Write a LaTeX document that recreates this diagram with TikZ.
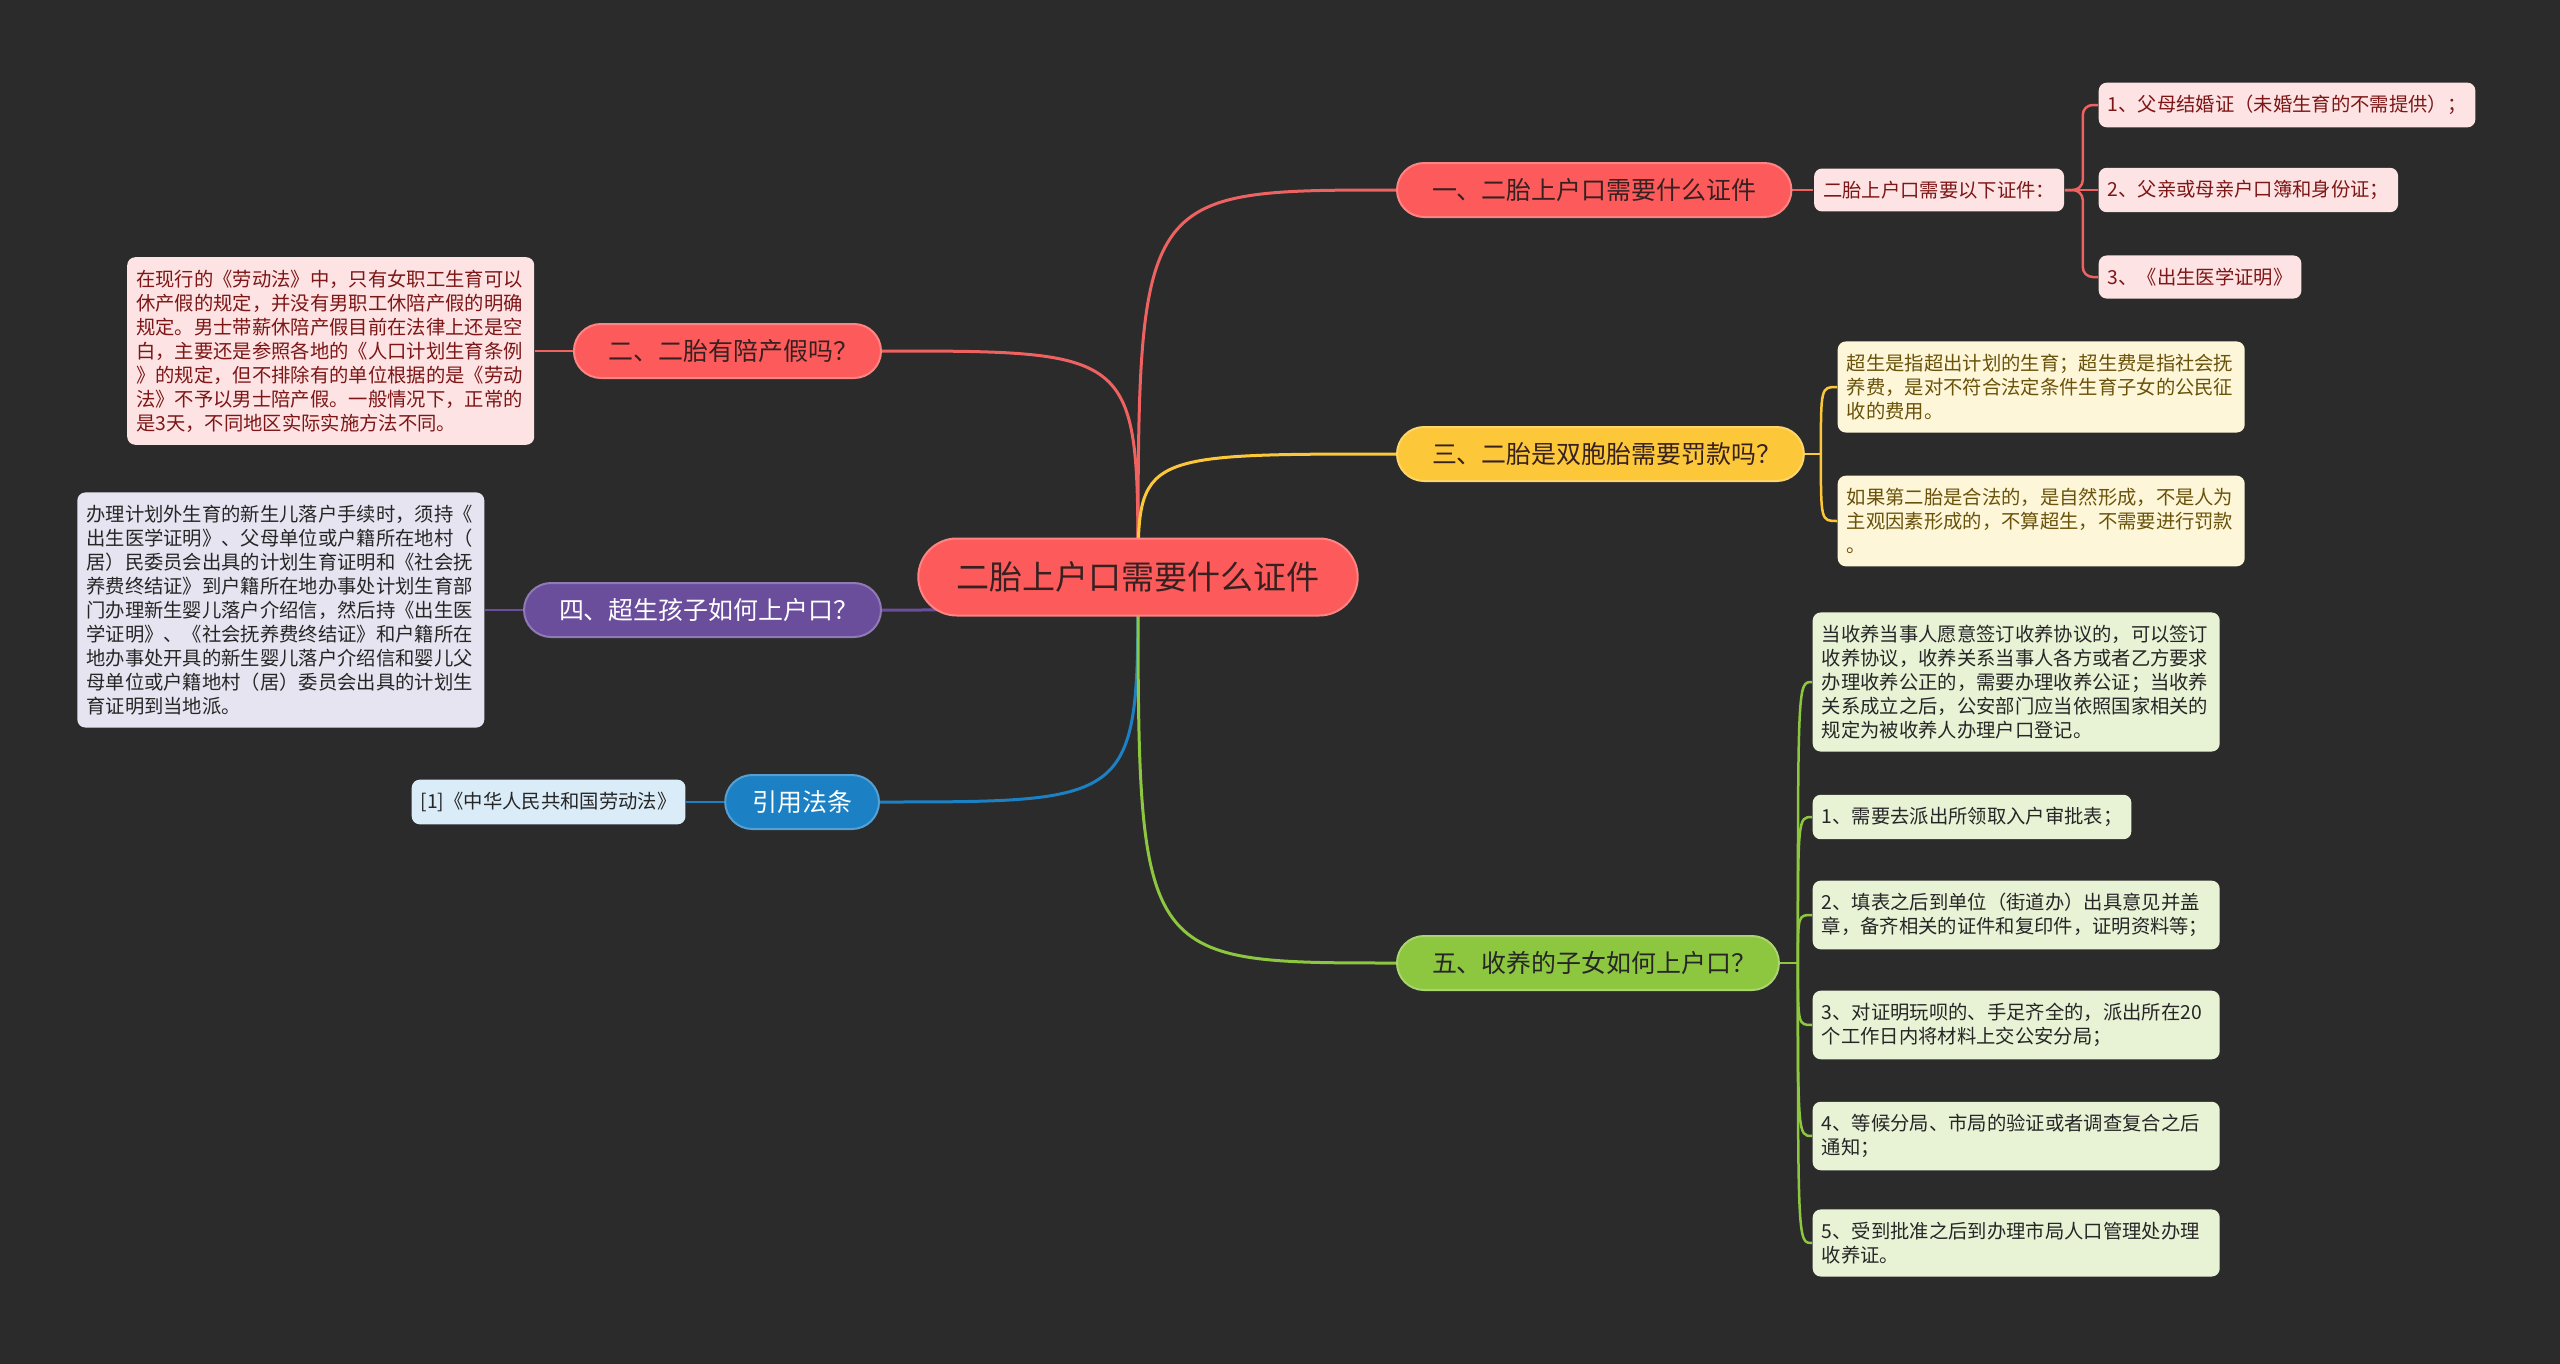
\documentclass[tikz,border=0pt]{standalone}
\usepackage{fontspec}
\setmainfont{Noto Sans CJK SC}
\usetikzlibrary{positioning}
\definecolor{bgdark}{RGB}{43,43,43}
\definecolor{redfill}{RGB}{253,91,91}
\definecolor{redline}{RGB}{238,98,98}
\definecolor{yelfill}{RGB}{252,200,58}
\definecolor{grnfill}{RGB}{141,198,63}
\definecolor{purfill}{RGB}{106,78,156}
\definecolor{blufill}{RGB}{28,128,196}
\definecolor{redleaf}{RGB}{253,227,227}
\definecolor{yelleaf}{RGB}{254,246,216}
\definecolor{grnleaf}{RGB}{232,243,214}
\definecolor{purleaf}{RGB}{230,228,240}
\definecolor{bluleaf}{RGB}{218,236,248}
\definecolor{darktext}{RGB}{55,32,32}
\definecolor{redtext}{RGB}{125,22,22}
\definecolor{yeltext}{RGB}{105,82,10}
\newcommand{\qmark}{\makebox[0.5em][l]{？}}
\pgfdeclarelayer{links}
\pgfsetlayers{links,main}

\begin{document}
\begin{tikzpicture}[x=0.1mm, y=-0.1mm,
      rootbox/.style={rectangle, rounded corners=3.85mm, fill=redfill, draw=redfill!75!white,
                      line width=0.2mm, minimum height=7.7mm, inner xsep=3.8mm,
                      font=\fontsize{9.4pt}{11pt}\selectfont, text=darktext},
      branch/.style={rectangle, rounded corners=2.7mm, minimum height=5.4mm, inner xsep=3.5mm,
                     line width=0.2mm, font=\fontsize{7.1pt}{8.5pt}\selectfont},
      leaf/.style={rectangle, rounded corners=0.8mm, align=left, inner xsep=0.9mm,
                   inner ysep=1.25mm, minimum height=4.1mm,
                   font=\fontsize{5.5pt}{6.83pt}\selectfont, text=black!85},
      wide/.style={leaf, text width=38.9mm},
      link/.style={line width=0.3mm},
      twig/.style={line width=0.25mm}]
    \useasboundingbox (0,0) rectangle (2560,1364);
    \node[rootbox] (root) at (1138,577) {二胎上户口需要什么证件};
    \node[branch, fill=redfill, draw=redfill!75!white, text=darktext, anchor=west] (one)
      at (1396,190) {一、二胎上户口需要什么证件};
    \node[branch, fill=yelfill, draw=yelfill!75!white, text=darktext, anchor=west] (three)
      at (1396,454) {三、二胎是双胞胎需要罚款吗\qmark};
    \node[branch, fill=grnfill, draw=grnfill!75!white, text=black!85, anchor=west] (five)
      at (1396,963) {五、收养的子女如何上户口\qmark};
    \node[branch, fill=redfill, draw=redfill!75!white, text=darktext, anchor=east] (two)
      at (882,351) {二、二胎有陪产假吗\qmark};
    \node[branch, fill=purfill, draw=purfill!75!white, text=white, anchor=east] (four)
      at (882,610) {四、超生孩子如何上户口\qmark};
    \node[branch, fill=blufill, draw=blufill!75!white, text=white, anchor=east, inner xsep=2.7mm] (cite)
      at (880,802) {引用法条};

    \node[leaf, fill=redleaf, text=redtext, right=2.1mm of one] (need) {二胎上户口需要以下证件：};
    \node[leaf, fill=redleaf, text=redtext, anchor=west] (doc1) at (2098,105)
      {1、父母结婚证（未婚生育的不需提供）；};
    \node[leaf, fill=redleaf, text=redtext, anchor=west] (doc2) at (2098,190)
      {2、父亲或母亲户口簿和身份证；};
    \node[leaf, fill=redleaf, text=redtext, anchor=west] (doc3) at (2098,277)
      {3、《出生医学证明》};

    \node[wide, fill=yelleaf, text=yeltext, anchor=west] (fine1) at (1837,387)
      {超生是指超出计划的生育；超生费是指社会抚\\养费，是对不符合法定条件生育子女的公民征\\收的费用。};
    \node[wide, fill=yelleaf, text=yeltext, anchor=west] (fine2) at (1837,521)
      {如果第二胎是合法的，是自然形成，不是人为\\主观因素形成的，不算超生，不需要进行罚款\\。};

    \node[wide, fill=grnleaf, anchor=west] (adopt0) at (1812,682)
      {当收养当事人愿意签订收养协议的，可以签订\\收养协议，收养关系当事人各方或者乙方要求\\办理收养公正的，需要办理收养公证；当收养\\关系成立之后，公安部门应当依照国家相关的\\规定为被收养人办理户口登记。};
    \node[leaf, fill=grnleaf, anchor=west] (adopt1) at (1812,817) {1、需要去派出所领取入户审批表；};
    \node[wide, fill=grnleaf, anchor=west] (adopt2) at (1812,915)
      {2、填表之后到单位（街道办）出具意见并盖\\章，备齐相关的证件和复印件，证明资料等；};
    \node[wide, fill=grnleaf, anchor=west] (adopt3) at (1812,1025)
      {3、对证明玩呗的、手足齐全的，派出所在20\\个工作日内将材料上交公安分局；};
    \node[wide, fill=grnleaf, anchor=west] (adopt4) at (1812,1136)
      {4、等候分局、市局的验证或者调查复合之后\\通知；};
    \node[wide, fill=grnleaf, anchor=west] (adopt5) at (1812,1243)
      {5、受到批准之后到办理市局人口管理处办理\\收养证。};

    \node[wide, fill=redleaf, text=redtext, left=3.8mm of two] (leave)
      {在现行的《劳动法》中，只有女职工生育可以\\休产假的规定，并没有男职工休陪产假的明确\\规定。男士带薪休陪产假目前在法律上还是空\\白，主要还是参照各地的《人口计划生育条例\\》的规定，但不排除有的单位根据的是《劳动\\法》不予以男士陪产假。一般情况下，正常的\\是3天，不同地区实际实施方法不同。};
    \node[wide, fill=purleaf, left=3.8mm of four] (settle)
      {办理计划外生育的新生儿落户手续时，须持《\\出生医学证明》、父母单位或户籍所在地村（\\居）民委员会出具的计划生育证明和《社会抚\\养费终结证》到户籍所在地办事处计划生育部\\门办理新生婴儿落户介绍信，然后持《出生医\\学证明》、《社会抚养费终结证》和户籍所在\\地办事处开具的新生婴儿落户介绍信和婴儿父\\母单位或户籍地村（居）委员会出具的计划生\\育证明到当地派。};
    \node[leaf, fill=bluleaf, left=3.8mm of cite] (law) {[1]《中华人民共和国劳动法》};

    \begin{pgfonlayer}{links}
      \fill[bgdark] (0,0) rectangle (2560,1364);
      \draw[link, redline] (root.center) .. controls (root.center |- one.west) .. (one.west);
      \draw[link, redline] (root.center) .. controls (root.center |- two.east) .. (two.east);
      \draw[link, yelfill] (root.center) .. controls (root.center |- three.west) .. (three.west);
      \draw[link, purfill] (root.center) .. controls (root.center |- four.east) .. (four.east);
      \draw[link, blufill] (root.center) .. controls (root.center |- cite.east) .. (cite.east);
      \draw[link, grnfill] (root.center) .. controls (root.center |- five.west) .. (five.west);
      \draw[twig, redline] (one.east) -- (need.west);
      \draw[twig, redline] (need.east) -- (doc2.west);
      \foreach \d in {doc1,doc3}
        \draw[twig, redline, rounded corners=1mm] (need.east) -- ++(18,0) |- (\d.west);
      \draw[twig, yelfill] (three.east) -- ++(16,0) coordinate (tj);
      \foreach \d in {fine1,fine2}
        \draw[twig, yelfill] (tj) .. controls (tj |- \d.west) .. (\d.west);
      \draw[twig, grnfill] (five.east) -- ++(18,0) coordinate (fj);
      \foreach \d in {adopt0,adopt1,adopt2,adopt3,adopt4,adopt5}
        \draw[twig, grnfill] (fj) .. controls (fj |- \d.west) .. (\d.west);
      \draw[twig, redline] (two.west) -- (leave.east);
      \draw[twig, purfill] (four.west) -- (settle.east);
      \draw[twig, blufill] (cite.west) -- (law.east);
    \end{pgfonlayer}
  \end{tikzpicture}
\end{document}
